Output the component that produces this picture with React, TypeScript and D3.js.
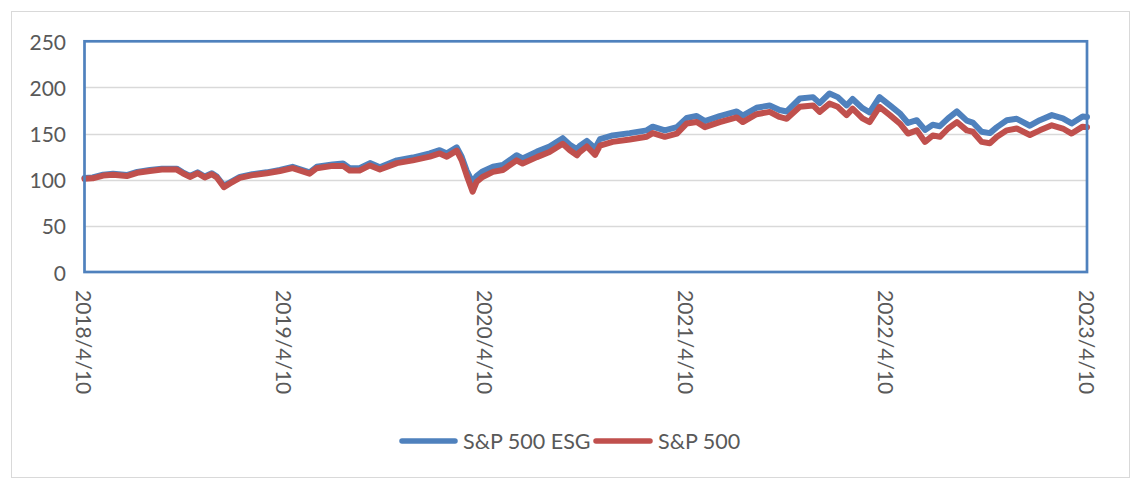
import React from "react";
import * as d3 from "d3";

const dates: string[] = [
  "2018-04-10","2018-04-25","2018-05-14","2018-06-01","2018-06-26","2018-07-15","2018-08-07","2018-08-29",
  "2018-09-25","2018-10-06","2018-10-19","2018-11-02","2018-11-15","2018-11-28","2018-12-07","2018-12-20",
  "2018-12-31","2019-01-18","2019-02-10","2019-03-08","2019-04-01","2019-04-24","2019-05-25","2019-06-07",
  "2019-07-06","2019-07-25","2019-08-06","2019-08-24","2019-09-12","2019-09-30","2019-10-31","2019-11-29",
  "2019-12-30","2020-01-17","2020-01-30","2020-02-17","2020-02-26","2020-03-06","2020-03-17","2020-03-24",
  "2020-04-04","2020-04-23","2020-05-11","2020-06-05","2020-06-16","2020-07-12","2020-08-04","2020-08-28",
  "2020-09-10","2020-09-23","2020-09-28","2020-10-11","2020-10-26","2020-11-04","2020-11-27","2020-12-28",
  "2021-01-28","2021-02-08","2021-03-02","2021-03-24","2021-04-11","2021-04-29","2021-05-14","2021-06-10",
  "2021-07-11","2021-07-22","2021-08-16","2021-09-09","2021-09-27","2021-10-10","2021-11-03","2021-11-27",
  "2021-12-09","2021-12-27","2022-01-11","2022-01-27","2022-02-07","2022-02-25","2022-03-10","2022-03-28",
  "2022-04-16","2022-05-04","2022-05-19","2022-06-04","2022-06-19","2022-07-03","2022-07-16","2022-07-31",
  "2022-08-16","2022-09-03","2022-09-14","2022-09-30","2022-10-15","2022-10-28","2022-11-15","2022-12-03",
  "2022-12-27","2023-01-14","2023-02-05","2023-02-25","2023-03-13","2023-04-02","2023-04-10",
];

const sp500: number[] = [
  101, 101.5, 104.5, 105.5, 104, 107.5, 109.5, 111,
  111, 107, 103, 107, 102.5, 106, 102.5, 92,
  96, 102, 105, 107, 109.5, 112.5, 106.5, 112.5,
  115, 115, 110, 110, 115.5, 111, 118, 121,
  125, 128.5, 125, 131.5, 121, 105, 87, 97.5,
  103, 108.5, 110.5, 121, 117.5, 124.5, 130, 139,
  132, 126.5, 130, 136, 127, 137, 141, 143.5,
  146.5, 150.5, 146.5, 150, 161, 162.5, 157, 162.5,
  167.5, 162.5, 171, 173.5, 168, 166, 179, 180.5,
  173.5, 182.5, 179, 170, 177, 166.5, 162.5, 179,
  170, 161, 150, 153.5, 141, 148, 146.5, 155.5,
  162.5, 153.5, 152, 141, 139.5, 146.5, 153.5, 155.5,
  148.5, 153.5, 159, 155.5, 150, 157.5, 157,
];

const sp500esg: number[] = [
  102, 102.5, 105.5, 106.5, 105, 108.5, 110.5, 112,
  112, 108, 104, 108, 103.5, 107, 103.5, 93.5,
  97, 103, 106, 108, 110.5, 114, 108, 114,
  116.5, 117.5, 112.5, 112.5, 118, 113.5, 121, 124,
  128.5, 132, 128.5, 135, 125, 110, 97, 104,
  109, 114, 116, 126.5, 123, 130.5, 136, 145,
  138, 133, 136.5, 142, 134, 144, 148, 150.5,
  153.5, 157.5, 153.5, 157, 167, 169, 163.5, 169,
  174, 169.5, 178, 180.5, 175.5, 174, 188, 189.5,
  183, 193.5, 189.5, 180.5, 187.5, 177.5, 173, 189.5,
  180.5, 172, 161.5, 164.5, 154, 159.5, 158, 166.5,
  174, 164, 162, 152, 150.5, 157, 164.5, 166,
  158.5, 164.5, 170, 166.5, 161, 168.5, 168,
];

const xTickLabels: string[] = ["2018/4/10", "2019/4/10", "2020/4/10", "2021/4/10", "2022/4/10", "2023/4/10"];
const yTicks: number[] = [0, 50, 100, 150, 200, 250];
const seriesNames: string[] = ["S&P 500 ESG", "S&P 500"];

const BLUE = "#4f81bd";
const RED = "#c0504d";
const FONT = "Lato, 'Open Sans', sans-serif";

export default function App() {
  const W = 1138, H = 480;
  const L = 84.5, R = 1087, T = 41.3, B = 272;
  const parse = d3.timeParse("%Y-%m-%d");
  const parseTick = d3.timeParse("%Y/%m/%d");
  const dts = dates.map((d) => parse(d) as Date);
  const x = d3.scaleTime().domain([dts[0], dts[dts.length - 1]]).range([L, R]);
  const y = d3.scaleLinear().domain([0, 250]).range([B, T]);
  const line = d3
    .line<number>()
    .x((_, i) => x(dts[i]))
    .y((v) => y(v))
    .curve(d3.curveLinear);

  return (
    <div style={{ position: "fixed", left: 0, top: 0, width: W, height: H, background: "#fff" }}>
      <svg width={W} height={H} style={{ display: "block" }} fontFamily={FONT}>
        <rect x={0} y={0} width={W} height={H} fill="#fff" />
        <rect x={11.5} y={11.5} width={1118} height={466} fill="#fff" stroke="#d9d9d9" strokeWidth={1} />
        {yTicks.slice(1, -1).map((t) => (
          <line key={t} x1={L} x2={R} y1={Math.round(y(t)) + 0.5} y2={Math.round(y(t)) + 0.5} stroke="#d9d9d9" strokeWidth={1.5} />
        ))}
        {yTicks.map((t) => (
          <text key={t} x={66} y={y(t)} textAnchor="end" dominantBaseline="central" fontSize={21} fill="#595959">
            {t}
          </text>
        ))}
        {xTickLabels.map((lab) => {
          const px = x(parseTick(lab) as Date);
          return (
            <text
              key={lab}
              transform={`translate(${px},290) rotate(90)`}
              textAnchor="start"
              dominantBaseline="central"
              fontSize={21}
              fill="#595959"
            >
              {lab}
            </text>
          );
        })}
        <path d={line(sp500esg) || ""} fill="none" stroke={BLUE} strokeWidth={6} strokeLinejoin="round" strokeLinecap="round" />
        <path d={line(sp500) || ""} fill="none" stroke={RED} strokeWidth={6} strokeLinejoin="round" strokeLinecap="round" />
        <rect x={L} y={T} width={R - L} height={B - T} fill="none" stroke={BLUE} strokeWidth={2.7} />
        <g>
          <line x1={402} x2={455} y1={441} y2={441} stroke={BLUE} strokeWidth={5.5} strokeLinecap="round" />
          <text x={463} y={441} dominantBaseline="central" fontSize={21.5} fill="#595959">{seriesNames[0]}</text>
          <line x1={596} x2={650} y1={441} y2={441} stroke={RED} strokeWidth={5.5} strokeLinecap="round" />
          <text x={658} y={441} dominantBaseline="central" fontSize={21.5} fill="#595959">{seriesNames[1]}</text>
        </g>
      </svg>
    </div>
  );
}
